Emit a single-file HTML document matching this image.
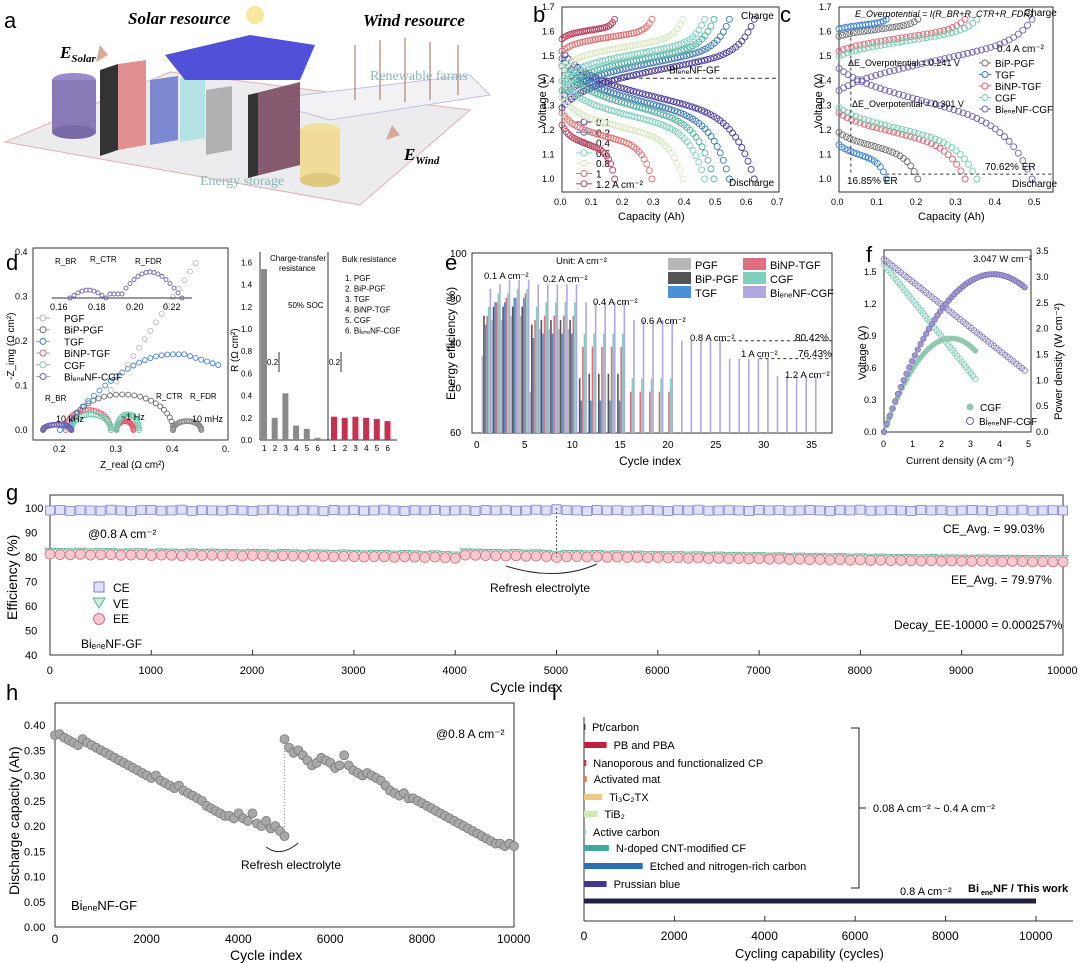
<!DOCTYPE html>
<html><head><meta charset="utf-8"><style>
body{margin:0;background:#fff}
svg{display:block;font-family:"Liberation Sans",sans-serif}
</style></head><body>
<svg id="fig" width="1080" height="963" viewBox="0 0 1080 963" xmlns="http://www.w3.org/2000/svg">
<g>
<text x="4" y="28" font-size="22">a</text>
<polygon points="5,142 360,205 470,110 170,72" fill="#ececee" stroke="#e0b0b0"/>
<polygon points="260,100 470,75 490,95 330,120" fill="#f2f2f4" stroke="#c0c0e0"/>
<ellipse cx="74" cy="80" rx="22" ry="7" fill="#9a8ac8"/><rect x="52" y="80" width="44" height="52" fill="#8a7ab8"/><ellipse cx="74" cy="132" rx="22" ry="7" fill="#7a6aa8"/>
<polygon points="100,70 118,64 118,150 100,156" fill="#333"/>
<polygon points="118,64 146,60 146,145 118,150" fill="#e09090"/>
<polygon points="150,80 178,76 178,140 150,145" fill="#6070c8" opacity="0.8"/>
<polygon points="180,78 205,75 205,138 180,142" fill="#a8e0e0" opacity="0.8"/>
<polygon points="206,90 232,86 232,150 206,155" fill="#999" opacity="0.7"/>
<polygon points="248,95 300,82 300,165 248,178" fill="#7a4a60" opacity="0.9"/>
<polygon points="248,95 258,93 258,175 248,178" fill="#333"/>
<ellipse cx="320" cy="130" rx="20" ry="7" fill="#f0e0a0"/><rect x="300" y="130" width="40" height="50" fill="#f0dc98"/><ellipse cx="320" cy="180" rx="20" ry="7" fill="#e0c880"/>
<polygon points="165,55 250,35 315,45 300,80 185,80" fill="#5050d8"/>
<circle cx="255" cy="15" r="9" fill="#fbe8a0"/>
<g stroke="#b08070" stroke-width="1.2"><line x1="355" y1="45" x2="355" y2="100"/><line x1="380" y1="40" x2="380" y2="100"/><line x1="405" y1="38" x2="405" y2="102"/><line x1="430" y1="42" x2="430" y2="100"/><line x1="458" y1="45" x2="458" y2="95"/></g>
<polygon points="100,45 108,55 96,62" fill="#d8a898"/><polygon points="392,125 400,135 386,140" fill="#d8a898"/>
<text x="128" y="24" font-size="17" font-style="italic" font-weight="bold" font-family="Liberation Serif, serif">Solar resource</text>
<text x="363" y="26" font-size="17" font-style="italic" font-weight="bold" font-family="Liberation Serif, serif">Wind resource</text>
<text x="60" y="58" font-size="17" font-style="italic" font-weight="bold" font-family="Liberation Serif, serif">E<tspan font-size="11" dy="4">Solar</tspan></text>
<text x="404" y="160" font-size="17" font-style="italic" font-weight="bold" font-family="Liberation Serif, serif">E<tspan font-size="11" dy="4">Wind</tspan></text>
<text x="370" y="80" font-size="14" fill="#8ab8b8" font-family="Liberation Serif, serif">Renewable farms</text>
<text x="200" y="185" font-size="14" fill="#8ab8b8" font-family="Liberation Serif, serif">Energy storage</text>
</g>
<g id="plots"></g>
</svg>
<script>
const NS="http://www.w3.org/2000/svg";
const root=document.getElementById('plots');
function el(tag,at,par){const e=document.createElementNS(NS,tag);for(const k in at)e.setAttribute(k,at[k]);(par||root).appendChild(e);return e;}
function tx(x,y,s,fs,opt){const e=el('text',Object.assign({x:x,y:y,'font-size':fs||11},opt||{}));e.textContent=s;return e;}

/* ---------- data ---------- */
const bRates=["0.1","0.2","0.4","0.6","0.8","1","1.2  A cm⁻²"];
const bCaps=[0.62,0.54,0.49,0.46,0.39,0.29,0.17];
const bChgStart=[1.29,1.33,1.36,1.40,1.45,1.52,1.57];
const bDisStart=[1.52,1.49,1.46,1.40,1.33,1.27,1.22];
const bColors=["#4a3a9a","#3a78b0","#50b0a0","#80d0c0","#d8e8c0","#e07070","#c04060"];
const cNames=["BiP-PGF","TGF","BiNP-TGF","CGF","BiₑₙₑNF-CGF"];
const cCaps=[0.2,0.12,0.32,0.35,0.49];
const cChgStart=[1.58,1.61,1.52,1.50,1.36];
const cDisStart=[1.19,1.14,1.27,1.29,1.45];
const cColors=["#707070","#3a80d0","#e06070","#70d0b0","#7060b0"];
const eSeries=["PGF","BiP-PGF","TGF","BiNP-TGF","CGF","BiₑₙₑNF-CGF"];
const eColors=["#b8b8b8","#555555","#4a8fd8","#e07080","#80d0c0","#b0a8e0"];
const eVals=[
[77,85,85,86,86,69,83,83,83,83,null,null,null,null,null,null,null,null,null,null,null,null,null,null,null,null,null,null,null,null,null,null,null,null,null],
[86,88,88,88,88,84,85,85,85,85,72,73,73,73,73,null,null,null,null,null,null,null,null,null,null,null,null,null,null,null,null,null,null,null,null],
[84,89,89,90,90,81,82,82,82,82,67,67,67,67,67,null,null,null,null,null,null,null,null,null,null,null,null,null,null,null,null,null,null,null,null],
[86,89,90,90,91,85,86,86,86,86,79,79,79,79,79,69,69,69,69,69,null,null,null,null,null,null,null,null,null,null,null,null,null,null,null],
[88,91,91,92,92,88,89,89,89,89,82,82,82,82,82,72,72,72,72,72,null,null,null,null,null,null,null,null,null,null,null,null,null,null,null],
[92,93,94,94,94,93,93,93,93,93,89,89,89,89,89,85,85,85,85,85,80.4,80.4,80.4,80.4,80.4,76.4,76.4,76.4,76.4,76.4,72.5,72.5,72.5,72.5,72.5]];
const gCE=[99,99.2,98.8,99.1,99,98.9,99.3,99,98.7,99.1,99.2,98.9,99,99.3,98.8,99.1,99,98.9,99.2,99,98.8,99.1,99.3,99,98.9,99.1,99,98.7,99.2,99,99.1,98.9,99,99.3,99,98.8,99.1,99,99.2,98.9,99,99.1,98.8,99.2,99,99.1,98.9,99,99.3,99,99.5,99.1,99,98.8,99.2,99,99.1,98.9,99,99.2,99,98.8,99.1,99,99.3,98.9,99,99.1,99,98.8,99.2,99,99.1,98.9,99,99.2,99,98.8,99.1,99,99.3,98.9,99,99.1,99,98.8,99.2,99,99.1,98.9,99,99.2,99,98.8,99.1,99,99.3,98.9,99,99.1,99];
const gEE=[81.2,81,80.9,81.1,80.8,80.9,81,80.7,80.8,80.9,80.6,80.8,80.7,80.5,80.8,80.6,80.7,80.5,80.6,80.4,80.6,80.5,80.3,80.5,80.4,80.2,80.4,80.3,80.1,80.3,80.2,80,80.2,80.1,79.9,80.1,80,79.8,80,79.7,79.5,80.8,80.7,80.6,80.5,80.4,80.5,80.3,80.4,80.2,79.8,80.1,80.2,80,80.1,79.9,80,79.8,79.9,79.7,79.8,79.6,79.7,79.5,79.6,79.4,79.5,79.3,79.4,79.2,79.3,79.1,79.2,79,79.1,78.9,79,78.8,78.9,78.7,78.8,78.6,78.7,78.5,78.6,78.5,78.4,78.5,78.3,78.4,78.3,78.2,78.3,78.2,78.1,78.2,78.1,78,78.1,78,78];
const gVE=[82,81.9,81.8,82,81.7,81.8,81.9,81.6,81.7,81.8,81.5,81.7,81.6,81.4,81.7,81.5,81.6,81.4,81.5,81.3,81.5,81.4,81.2,81.4,81.3,81.1,81.3,81.2,81,81.2,81.1,80.9,81.1,81,80.8,81,80.9,80.7,80.9,80.6,80.4,81.7,81.6,81.5,81.4,81.3,81.4,81.2,81.3,81.1,80.7,81,81.1,80.9,81,80.8,80.9,80.7,80.8,80.6,80.7,80.5,80.6,80.4,80.5,80.3,80.4,80.2,80.3,80.1,80.2,80,80.1,79.9,80,79.8,79.9,79.7,79.8,79.6,79.7,79.5,79.6,79.4,79.5,79.4,79.3,79.4,79.2,79.3,79.2,79.1,79.2,79.1,79,79.1,79,78.9,79,78.9,78.9];
const hCap1=[0.38,0.382,0.375,0.37,0.365,0.36,0.372,0.365,0.36,0.355,0.35,0.345,0.34,0.335,0.33,0.325,0.32,0.315,0.31,0.305,0.30,0.295,0.30,0.29,0.285,0.28,0.275,0.28,0.27,0.265,0.26,0.255,0.25,0.24,0.235,0.23,0.225,0.22,0.22,0.215,0.225,0.215,0.21,0.225,0.205,0.2,0.21,0.195,0.2,0.19,0.18];
const hCap2=[0.372,0.355,0.345,0.35,0.34,0.33,0.32,0.325,0.335,0.33,0.325,0.315,0.32,0.34,0.32,0.31,0.305,0.30,0.305,0.30,0.295,0.29,0.28,0.27,0.265,0.26,0.265,0.255,0.255,0.25,0.245,0.24,0.235,0.23,0.225,0.22,0.215,0.21,0.205,0.2,0.195,0.19,0.185,0.18,0.175,0.17,0.165,0.165,0.16,0.165,0.16];
const iLabels=["Pt/carbon","PB and PBA","Nanoporous and functionalized CP","Activated mat","Ti₃C₂TX","TiB₂","Active carbon","N-doped CNT-modified CF","Etched and nitrogen-rich carbon","Prussian blue"];
const iVals=[20,500,50,60,400,300,40,550,1300,500,10000];
const iColors=["#444","#c02040","#d03040","#e08050","#f0c880","#d0e8b0","#80c8b8","#40a898","#3070b0","#403890","#202040"];

function frame(x,y,w,h,name){const r=el('rect',{x:x,y:y,width:w,height:h,fill:'none',stroke:'#333','stroke-width':1});}
function label(x,y,s){const t=tx(x,y,s,22);}
function ring(x,y,r,c,name){const m=el('circle',{cx:x,cy:y,r:r,fill:'none',stroke:c,'stroke-width':0.9});return m;}
function chgShape(f){return 0.22*(1-Math.exp(-9*f))+0.42*f+0.36*Math.pow(f,14);}
function disShape(f){return 0.19*(1-Math.exp(-9*f))+0.35*f+0.46*Math.pow(f,10);}

/* ---------- panel b ---------- */
label(533,22,'b');
(function(){const X0=562,X1=779,Yb=179;
const bx=c=>X0+c*310, by=v=>Yb-(v-1.0)*245.7;
frame(X0,7,X1-X0,185,'panel-b-frame');
for(let i=0;i<=7;i++){tx(bx(i*0.1)-8,205,(i*0.1).toFixed(1),9);}
for(let i=0;i<=7;i++){const v=1+i*0.1;tx(X0-20,by(v)+3,v.toFixed(1),9);}
tx(618,220,'Capacity (Ah)',11);
tx(0,0,'Voltage (V)',11,{transform:'translate(546,128) rotate(-90)'});
el('line',{x1:X0,y1:by(1.41),x2:X1,y2:by(1.41),stroke:'#333','stroke-dasharray':'4,3'});
bCaps.forEach((cap,k)=>{const n=Math.round(12+cap*80);
 for(let j=0;j<=n;j++){const c=cap*j/n,f=j/n;
  const vc=bChgStart[k]+(1.65-bChgStart[k])*chgShape(f);
  const vd=bDisStart[k]-(bDisStart[k]-1.0)*disShape(f);
  ring(bx(c),by(vc),3,bColors[k],'charge-point');ring(bx(c),by(vd),3,bColors[k],'discharge-point');}
 const ly=122+k*10.3;el('line',{x1:X0+14,y1:ly,x2:X0+30,y2:ly,stroke:bColors[k]});el('circle',{cx:X0+22,cy:ly,r:3,fill:'#fff',stroke:bColors[k]});tx(X0+34,ly+4,bRates[k],10);});
tx(X1-110,by(1.43),'BiₑₙₑNF-GF',10);tx(X1-38,19,'Charge',10);tx(X1-50,186,'Discharge',10);
})();

/* ---------- panel c ---------- */
label(780,22,'c');
(function(){const X0=839,X1=1053,Yb=179;
const cx=c=>X0+c*394, cy=v=>Yb-(v-1.0)*245.7;
frame(X0,7,X1-X0,185,'panel-c-frame');
for(let i=0;i<=5;i++){tx(cx(i*0.1)-8,205,(i*0.1).toFixed(1),9);}
for(let i=0;i<=7;i++){const v=1+i*0.1;tx(X0-20,cy(v)+3,v.toFixed(1),9);}
tx(918,220,'Capacity (Ah)',11);tx(0,0,'Voltage (V)',11,{transform:'translate(822,128) rotate(-90)'});
cCaps.forEach((cap,k)=>{const n=Math.round(8+cap*70);
 for(let j=0;j<=n;j++){const c=cap*j/n,f=j/n;
  const vc=cChgStart[k]+(1.65-cChgStart[k])*(0.12*(1-Math.exp(-9*f))+0.6*f+0.28*Math.pow(f,12));
  const vd=cDisStart[k]-(cDisStart[k]-1.0)*(0.1*(1-Math.exp(-9*f))+0.45*f+0.45*Math.pow(f,8));
  ring(cx(c),cy(vc),3,cColors[k],'charge-point');ring(cx(c),cy(vd),3,cColors[k],'discharge-point');}
 const ly=63+k*11.5;el('line',{x1:979,y1:ly,x2:991,y2:ly,stroke:cColors[k]});el('circle',{cx:985,cy:ly,r:3,fill:'#fff',stroke:cColors[k]});tx(995,ly+4,cNames[k],10);});
tx(997,52,'0.4 A cm⁻²',10);tx(855,17,'E_Overpotential = I(R_BR+R_CTR+R_FDR)',9,{'font-style':'italic'});
tx(848,66,'ΔE_Overpotential = 0.241 V',9);tx(852,107,'ΔE_Overpotential = 0.301 V',9);
tx(985,170,'70.62% ER',10);tx(847,184,'16.85% ER',10);tx(1024,16,'Charge',10);tx(1012,187,'Discharge',10);
el('line',{x1:cx(0.12),y1:cy(1.02),x2:X1,y2:cy(1.02),stroke:'#333','stroke-dasharray':'3,3'});
el('line',{x1:cx(0.03),y1:cy(1.6),x2:cx(0.03),y2:cy(1.02),stroke:'#333','stroke-dasharray':'3,3'});
})();

/* ---------- panel d ---------- */
label(6,270,'d');
(function(){const X0=33,X1=228,Yt=248,Yb=440;
frame(X0,Yt,X1-X0,Yb-Yt,'panel-d-nyquist-frame');
const zx=z=>60+(z-0.2)*565, zy=v=>430-v*445;
[0.2,0.3,0.4].forEach(z=>tx(zx(z)-7,452,z.toFixed(1),9));tx(222,452,'0.',9);
[0,0.1,0.2,0.3,0.4].forEach(v=>tx(X0-18,zy(v)+3,v.toFixed(1),9));
tx(100,468,'Z_real (Ω cm²)',10);tx(0,0,'-Z_img (Ω cm²)',10,{transform:'translate(14,380) rotate(-90)'});
const arcs=[[0.22,0.40,0.08,'#666'],[0.40,0.45,0.02,'#888'],[0.21,0.29,0.045,'#e06070'],[0.30,0.33,0.02,'#e06070'],[0.22,0.29,0.035,'#70d0b0'],[0.30,0.34,0.035,'#70d0b0'],[0.17,0.22,0.012,'#7060b0']];
arcs.forEach(a=>{const [s,e,h,c]=a;for(let j=0;j<=26;j++){const t=Math.PI*j/26;const z=(s+e)/2-(e-s)/2*Math.cos(t);ring(zx(z),zy(h*Math.sin(t)),2.5,c,'impedance-point');}});
for(let j=0;j<=28;j++){const z=0.2+j*0.01;const v=Math.min(0.17,0.17*Math.sin(Math.min(1,(z-0.2)/0.2)*Math.PI/2))-(z>0.42?(z-0.42)*0.4:0);ring(zx(z),zy(v),2.5,'#3a80d0','impedance-point');}
for(let j=0;j<16;j++){const z=0.29+j*0.01;ring(zx(z),zy(0.09+j*0.019),2.5,'#bbb','impedance-point');}
["PGF","BiP-PGF","TGF","BiNP-TGF","CGF","BiₑₙₑNF-CGF"].forEach((n,k)=>{const y=318+k*11.7;el('line',{x1:36,y1:y,x2:50,y2:y,stroke:'#aaa'});el('circle',{cx:43,cy:y,r:3,fill:'#fff',stroke:['#b8b8b8','#666','#3a80d0','#e06070','#70d0b0','#7060b0'][k]});tx(64,y+4,n,10);});
el('line',{x1:52,y1:298,x2:192,y2:298,stroke:'#333'});tx(50,310,'0.16',9);tx(88,310,'0.18',9);tx(126,310,'0.20',9);tx(163,310,'0.22',9);
for(let j=0;j<=28;j++){const x=70+j*4;const y=298-8*Math.sin(Math.PI*Math.min(j,9)/9)*(j<=9?1:0)-(j>9?(j<14?4:26*Math.sin(Math.PI*(j-12)/16)):0);ring(x,Math.min(y,298),2,'#7060b0','inset-point');}
tx(55,264,'R_BR',8);tx(90,262,'R_CTR',8);tx(135,264,'R_FDR',8);
tx(56,422,'10 kHz',9);tx(121,420,'~1 Hz',9);tx(192,422,'10 mHz',9);tx(45,401,'R_BR',8);tx(156,399,'R_CTR',8);tx(190,399,'R_FDR',8);
el('line',{x1:260,y1:252,x2:260,y2:440,stroke:'#333'});el('line',{x1:260,y1:440,x2:397,y2:440,stroke:'#333'});el('line',{x1:328,y1:252,x2:328,y2:440,stroke:'#333'});
const ctr=[1.54,0.2,0.42,0.13,0.1,0.02];const bulk=[0.21,0.2,0.21,0.2,0.19,0.17];
const ry=v=>440-v*111;
[0,0.2,0.4,0.6,0.8,1.0,1.2,1.4,1.6].forEach(v=>tx(241,ry(v)+3,v.toFixed(1),8));
ctr.forEach((v,k)=>{const r=el('rect',{x:261+k*10.7,y:ry(v),width:6,height:440-ry(v),fill:'#8a8a8a'});tx(262+k*10.7,451,String(k+1),8);});
bulk.forEach((v,k)=>{const r=el('rect',{x:331+k*10.7,y:ry(v),width:6,height:440-ry(v),fill:'#c83050'});tx(332+k*10.7,451,String(k+1),8);});
tx(0,0,'R (Ω cm²)',10,{transform:'translate(238,372) rotate(-90)'});
tx(270,261,'Charge-transfer',8);tx(279,271,'resistance',8);tx(342,262,'Bulk resistance',8);tx(288,308,'50% SOC',8);
tx(267,365,'0.2',8);tx(329,365,'0.2',8);el('line',{x1:279,y1:352,x2:279,y2:372,stroke:'#333'});el('line',{x1:341,y1:352,x2:341,y2:372,stroke:'#333'});
["1. PGF","2. BiP-PGF","3. TGF","4. BiNP-TGF","5. CGF","6. BiₑₙₑNF-CGF"].forEach((n,k)=>tx(345,281+k*10.5,n,8));
})();

/* ---------- panel e ---------- */
label(445,270,'e');
(function(){const X0=472,X1=832,Yb=433,Yt=253;
const ex=c=>477+c*9.57, ey=v=>432-(v-60)*4.475;
frame(X0,Yt,X1-X0,Yb-Yt,'panel-e-frame');
for(let v=60;v<=100;v+=10){tx(X0-22,ey(v)+4,String(v),10);}
for(let c=0;c<=35;c+=5){tx(ex(c)-(c<10?3:6),448,String(c),10);}
tx(619,465,'Cycle index',12);tx(0,0,'Energy efficiency (%)',12,{transform:'translate(455,400) rotate(-90)'});
eVals.forEach((ser,s)=>ser.forEach((v,i)=>{if(v==null)return;const x=ex(i+1)-5+s*1.6;
 const r=el('rect',{x:x,y:ey(v),width:1.6,height:Yb-ey(v),fill:eColors[s]});}));
["0.1 A cm⁻²","0.2 A cm⁻²","0.4 A cm⁻²","0.6 A cm⁻²","0.8 A cm⁻²","1 A cm⁻²","1.2 A cm⁻²"].forEach((t,k)=>tx([484,543,593,641,690,741,785][k],[279,282,305,324,341,357,378][k],t,9.5));
tx(556,264,'Unit: A cm⁻²',9.5);tx(795,341,'80.42%',10);tx(798,357,'76.43%',10);
el('line',{x1:ex(25.5),y1:ey(80.4),x2:X1,y2:ey(80.4),stroke:'#333','stroke-dasharray':'3,3'});
el('line',{x1:ex(29.5),y1:ey(76.4),x2:X1,y2:ey(76.4),stroke:'#333','stroke-dasharray':'3,3'});
eSeries.forEach((n,s)=>{const col=s%2,row=Math.floor(s/2);
 const lx=col?743:668,ly=258+row*14;const idx=[0,3,1,4,2,5][s];
 const r=el('rect',{x:lx,y:ly,width:23,height:12,fill:eColors[idx]});tx(lx+27,ly+11,eSeries[idx],11);});
})();

/* ---------- panel f ---------- */
label(866,262,'f');
(function(){const X0=884,X1=1031,Yb=432,Yt=250;
const fx=i=>X0+i*29, fv=v=>Yb-v*106.7, fp=p=>Yb-p*51.7;
frame(X0,Yt,X1-X0,Yb-Yt,'panel-f-frame');
for(let i=0;i<=5;i++)tx(fx(i)-3,447,String(i),9);
[0,0.3,0.6,0.9,1.2,1.5].forEach(v=>tx(X0-20,fv(v)+3,v.toFixed(1),9));
[0,0.5,1,1.5,2,2.5,3,3.5].forEach(p=>tx(X1+5,fp(p)+3,p.toFixed(1),9));
tx(906,464,'Current density (A cm⁻²)',10);tx(0,0,'Voltage (V)',11,{transform:'translate(866,380) rotate(-90)'});tx(0,0,'Power density (W cm⁻²)',11,{transform:'translate(1062,420) rotate(-90)'});
for(let j=0;j<=40;j++){const i=3.15*j/40;const v=1.57-0.34*i;ring(fx(i),fv(v),2.8,'#80d0b8','cgf-voltage');const c=el('circle',{cx:fx(i),cy:fp(i*v),r:2.8,fill:'#90c8b0'});}
for(let j=0;j<=50;j++){const i=4.85*j/50;const v=1.62-0.215*i;ring(fx(i),fv(v),2.8,'#8a80c0','binf-voltage');const c=el('circle',{cx:fx(i),cy:fp(i*v),r:2.8,fill:'#a098d0',stroke:'#6a60b0','stroke-width':0.6});}
tx(973,262,'3.047 W cm⁻²',9.5);
el('circle',{cx:970,cy:407,r:3.5,fill:'#90c8b0'});tx(980,411,'CGF',10);el('circle',{cx:970,cy:421,r:3.5,fill:'#fff',stroke:'#7060b0'});tx(979,425,'BiₑₙₑNF-CGF',10);
})();

/* ---------- panel g ---------- */
label(6,500,'g');
(function(){const X0=50,X1=1063,Yb=655,Yt=495;
const gx=c=>X0+c*(X1-X0)/10000, gy=v=>Yb-(v-40)*2.45;
frame(X0,Yt,X1-X0,Yb-Yt,'panel-g-frame');
for(let v=40;v<=100;v+=10)tx(X0-25,gy(v)+4,String(v),11);
for(let c=0;c<=10000;c+=1000){tx(gx(c)-String(c).length*3.2,674,String(c),11);el('line',{x1:gx(c),y1:Yb,x2:gx(c),y2:Yb-5,stroke:'#333'});}
tx(490,692,'Cycle index',14);tx(0,0,'Efficiency (%)',14,{transform:'translate(17,620) rotate(-90)'});
gCE.forEach((v,i)=>{const x=gx(i*100);const r=el('rect',{x:x-4.5,y:gy(v)-4.5,width:9,height:9,fill:'#e0e0f8',stroke:'#8080c8','stroke-width':0.8});});
gVE.forEach((v,i)=>{const x=gx(i*100),y=gy(v);const p=el('polygon',{points:`${x-5},${y-4} ${x+5},${y-4} ${x},${y+5}`,fill:'#c8f0e0',stroke:'#60b090','stroke-width':0.8});});
gEE.forEach((v,i)=>{const c=el('circle',{cx:gx(i*100),cy:gy(v),r:5,fill:'#f8c8d0',stroke:'#d07080','stroke-width':0.8});});
el('line',{x1:gx(5000),y1:gy(100),x2:gx(5000),y2:gy(80),stroke:'#555','stroke-dasharray':'2,2'});
tx(88,538,'@0.8 A cm⁻²',12);tx(490,592,'Refresh electrolyte',12);
el('path',{d:`M${gx(4500)},566 Q${gx(5000)},582 ${gx(5400)},564`,fill:'none',stroke:'#222'});
tx(943,533,'CE_Avg. = 99.03%',12);tx(951,584,'EE_Avg. = 79.97%',12);tx(894,629,'Decay_EE-10000 = 0.000257%',12);
el('rect',{x:94,y:582,width:10,height:10,fill:'#e0e0f8',stroke:'#8080c8'});tx(113,592,'CE',12);
el('polygon',{points:'93,598 105,598 99,608',fill:'#c8f0e0',stroke:'#60b090'});tx(113,608,'VE',12);
el('circle',{cx:99,cy:619,r:5.5,fill:'#f8c8d0',stroke:'#d07080'});tx(113,623,'EE',12);
tx(81,648,'BiₑₙₑNF-GF',12);
})();

/* ---------- panel h ---------- */
label(6,700,'h');
(function(){const X0=55,X1=514,Yb=927,Yt=703;
const hx=c=>X0+c*(X1-X0)/10000, hy=v=>Yb-v*505;
frame(X0,Yt,X1-X0,Yb-Yt,'panel-h-frame');
for(let i=0;i<=8;i++){const v=i*0.05;tx(X0-31,hy(v)+4,v.toFixed(2),11);}
for(let c=0;c<=10000;c+=2000)tx(hx(c)-String(c).length*3.4,943,String(c),12);
tx(230,960,'Cycle index',14);tx(0,0,'Discharge capacity (Ah)',14,{transform:'translate(19,895) rotate(-90)'});
hCap1.forEach((v,i)=>{const c=el('circle',{cx:hx(i*100),cy:hy(v),r:4.5,fill:'#a8a8a8',stroke:'#7a7a7a','stroke-width':0.8});});
hCap2.forEach((v,i)=>{const c=el('circle',{cx:hx(5000+i*100),cy:hy(v),r:4.5,fill:'#a8a8a8',stroke:'#7a7a7a','stroke-width':0.8});});
el('line',{x1:hx(5000),y1:hy(0.18),x2:hx(5000),y2:hy(0.37),stroke:'#888','stroke-dasharray':'1,2'});
tx(436,738,'@0.8 A cm⁻²',12);tx(241,869,'Refresh electrolyte',12);tx(71,910,'BiₑₙₑNF-GF',13);
el('path',{d:`M${hx(4600)},847 Q${hx(4900)},858 ${hx(5300)},843`,fill:'none',stroke:'#222'});
})();

/* ---------- panel i ---------- */
label(552,700,'i');
(function(){const X0=584;
const ix=v=>X0+v*(1036-X0)/10000;
el('line',{x1:X0,y1:717,x2:X0,y2:921,stroke:'#333'});el('line',{x1:X0,y1:921,x2:1073,y2:921,stroke:'#333'});
for(let c=0;c<=10000;c+=2000){tx(ix(c)-String(c).length*3.4,940,String(c),12);el('line',{x1:ix(c),y1:921,x2:ix(c),y2:916,stroke:'#333'});}
tx(735,958,'Cycling capability (cycles)',13);
const ys=[727,745,763,779,797,814,832,848,866,884,901];
iVals.forEach((v,k)=>{const y=ys[k],h=k==10?5:6;const r=el('rect',{x:X0,y:y-h/2,width:Math.max(ix(v)-X0,1.5),height:h,fill:iColors[k]});
 if(k<10)tx(Math.max(ix(v),X0+2)+ (k==0?6:7),y+4,iLabels[k],11);});
tx(968,892,'Bi',11,{'font-weight':'bold'});tx(981,895,'ene',7,{'font-weight':'bold'});tx(993,892,'NF / This work',11,{'font-weight':'bold'});
el('path',{d:'M851,728 H859 V888 H851',fill:'none',stroke:'#222'});el('line',{x1:859,y1:808,x2:866,y2:808,stroke:'#222'});
tx(873,812,'0.08 A cm⁻² ~ 0.4 A cm⁻²',11);tx(900,895,'0.8 A cm⁻²',11);
})();
</script>
</body></html>
